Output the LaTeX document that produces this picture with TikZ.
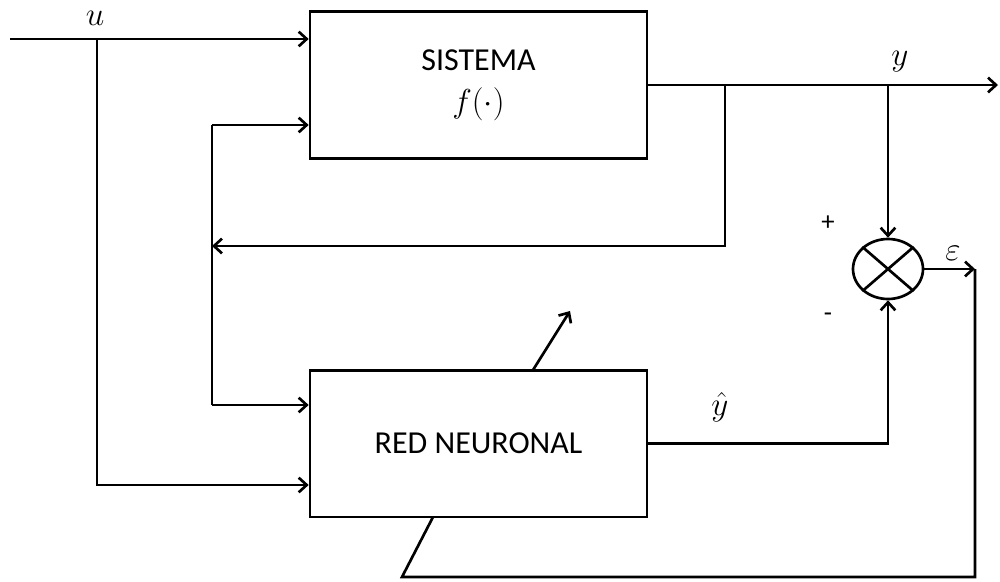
\documentclass[tikz,border=0pt]{standalone}
\usepackage{fontspec}
\setmainfont{Carlito}
\usetikzlibrary{arrows.meta,shapes.geometric}
\begin{document}
\begin{tikzpicture}[x=0.75pt,y=-0.75pt,
  line width=2pt,
  >={Straight Barb[length=6pt,width=11pt,line width=2pt]},
  block/.style={draw,rectangle,minimum width=252.75pt,minimum height=110pt,
    align=center,font=\fontsize{24}{31.5}\selectfont,inner sep=0pt},
  summer/.style={draw,ellipse,minimum width=52.5pt,minimum height=45pt,inner sep=0pt},
  lbl/.style={font=\fontsize{24}{28}\selectfont,inner sep=0pt}]
\useasboundingbox (0,0) rectangle (1000,582);

% blocks
\node[block] (sys) at (478.5,85) {SISTEMA\\$f(\cdot)$};
\node[block] (red) at (478.5,443.5) {RED NEURONAL};
\node[summer] (sum) at (888,269) {};
\draw (sum.north west) -- (sum.south east);
\draw (sum.north east) -- (sum.south west);

% junction points
\coordinate (in) at (10,39);
\coordinate (uj) at (97,39);
\coordinate (ub) at (97,485);
\coordinate (fa) at (725,85);
\coordinate (fb) at (725,246);
\coordinate (fc) at (212,246);
\coordinate (ft) at (212,125);
\coordinate (fl) at (212,405);
\coordinate (yj) at (888,85);
\coordinate (yo) at (998,85);
\coordinate (ec) at (975,269);
\coordinate (eb) at (975,577);
\coordinate (el) at (402,577);
\coordinate (ei) at (433,517);
\coordinate (wa) at (533,370);
\coordinate (wb) at (570,311);

% input u
\draw[->] (in) -- (in -| sys.west);
\draw[->] (uj) -- (ub) -- (ub -| red.west);

% output y and feedback
\draw[->] (sys.east |- yo) -- (yo);
\draw[->] (fa) -- (fb) -- (fc);
\draw (ft) -- (fl);
\draw[->] (ft) -- (ft -| sys.west);
\draw[->] (fl) -- (fl -| red.west);
\draw[->] (yj) -- (sum.north);

% network output
\draw[->] (red.east) -| (sum.south);

% error
\draw[->] (sum.east) -- (ec);
\draw (ec) -- (eb) -- (el) -- (ei);

% adaptation arrow
\draw[->] (wa) -- (wb);

% labels
\node[lbl] (lu) at (95,18) {$u$};
\node[lbl] (ly) at (900,62) {$y$};
\node[lbl] (lyh) at (720,407) {$\hat{y}$};
\node[lbl] (le) at (953,253) {$\varepsilon$};
\node[lbl,font=\fontsize{20}{24}\selectfont] (lp) at (828,223) {+};
\node[lbl,font=\fontsize{20}{24}\selectfont] (lm) at (828,317) {-};
\end{tikzpicture}
\end{document}
